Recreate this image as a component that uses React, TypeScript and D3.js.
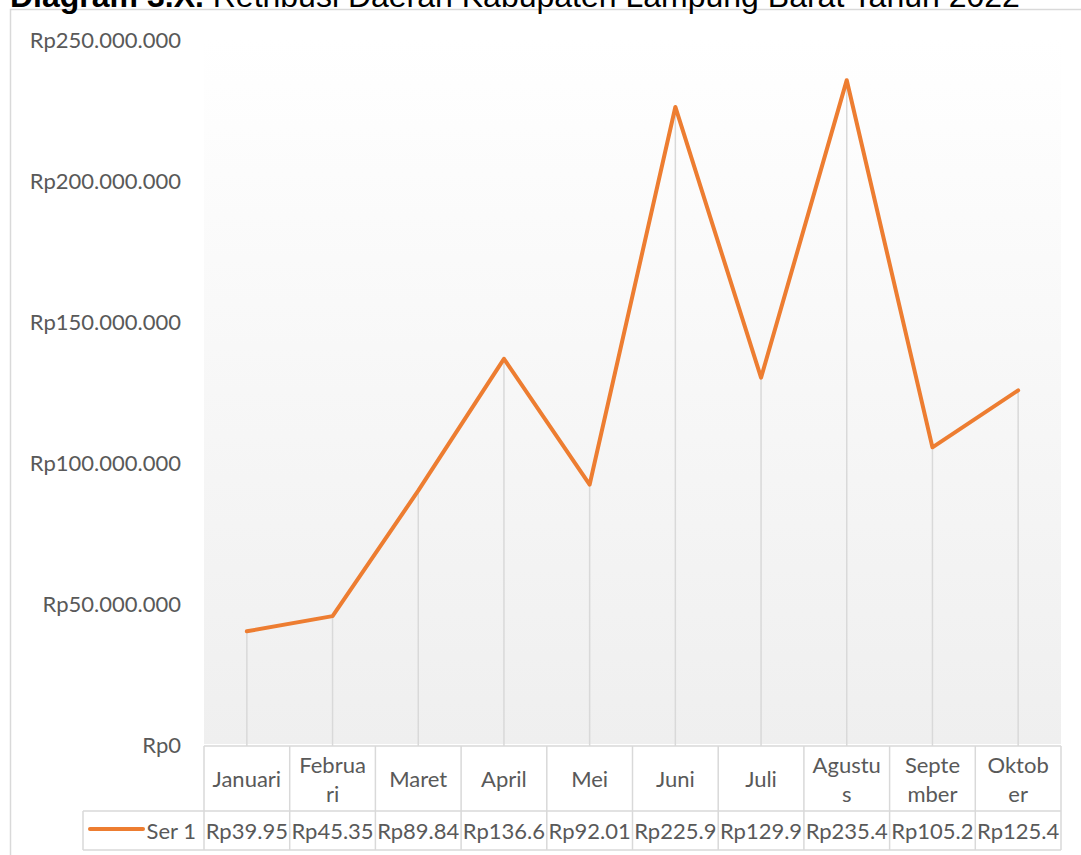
import React from "react";
import * as d3 from "d3";

const categories = ["Januari", "Februari", "Maret", "April", "Mei", "Juni", "Juli", "Agustus", "September", "Oktober"];
const values = [39.95e6, 45.35e6, 89.84e6, 136.6e6, 92.01e6, 225.9e6, 129.9e6, 235.4e6, 105.2e6, 125.4e6];
const tableLabels = ["Rp39.95", "Rp45.35", "Rp89.84", "Rp136.6", "Rp92.01", "Rp225.9", "Rp129.9", "Rp235.4", "Rp105.2", "Rp125.4"];
const yTicks = [0, 50e6, 100e6, 150e6, 200e6, 250e6];
const seriesName = "Ser 1";
const titleBold = "Diagram 3.X.";
const titleRest = " Retribusi Daerah Kabupaten Lampung Barat Tahun 2022";

const W = 1081;
const H = 855;
const FONT = "Lato, 'Open Sans', sans-serif";
const FS = 22;
const TXT = "#595959";
const GRID = "#d9d9d9";
const ORANGE = "#ED7D31";

const locale = d3.formatLocale({ decimal: ",", thousands: ".", grouping: [3], currency: ["Rp", ""] });
const fmt = locale.format("$,.0f");

function wrapText(text: string, maxW: number): string[] {
  const c = document.createElement("canvas").getContext("2d");
  if (!c) return [text];
  c.font = `${FS}px Lato`;
  const lines: string[] = [];
  let cur = "";
  for (const ch of text) {
    if (cur && c.measureText(cur + ch).width > maxW) {
      lines.push(cur);
      cur = ch;
    } else cur += ch;
  }
  if (cur) lines.push(cur);
  return lines;
}

export default function App() {
  const left = 204;
  const right = 1061;
  const x = d3.scaleBand<string>().domain(categories).range([left, right]).padding(0);
  const y = d3.scaleLinear().domain([0, 250e6]).range([744, 39]);
  const cx = (c: string) => (x(c) as number) + x.bandwidth() / 2;
  const line = d3
    .line<number>()
    .x((_, i) => cx(categories[i]))
    .y((d) => y(d));

  const tTop = 746;
  const tMid = 811;
  const tBot = 850;
  const legendLeft = 83;
  const edges = categories.map((c) => x(c) as number).concat([right]);

  return (
    <div style={{ position: "absolute", left: 0, top: 0 }}>
      <svg width={W} height={H} style={{ display: "block" }}>
        <defs>
          <linearGradient id="pg" x1="0" y1="0" x2="0" y2="1">
            <stop offset="0" stopColor="#ffffff" />
            <stop offset="1" stopColor="#efefef" />
          </linearGradient>
        </defs>
        <rect x={0} y={0} width={W} height={H} fill="#fff" />
        <rect x={10.5} y={9.5} width={1100} height={900} fill="#fff" stroke={GRID} strokeWidth={1.5} />
        <text x={10} y={7} fontFamily="'Liberation Sans', Arial, sans-serif" fontSize={32} fill="#000">
          <tspan fontWeight="bold">{titleBold}</tspan>
          <tspan>{titleRest}</tspan>
        </text>

        <rect x={left} y={y(250e6)} width={right - left} height={744 - y(250e6)} fill="url(#pg)" />

        {yTicks.map((t) => (
          <text key={t} x={181} y={y(t)} textAnchor="end" dominantBaseline="central" fontFamily={FONT} fontSize={FS} fill={TXT}>
            {fmt(t)}
          </text>
        ))}

        {categories.map((c, i) => (
          <line key={c} x1={cx(c)} x2={cx(c)} y1={y(values[i])} y2={tTop} stroke={GRID} strokeWidth={1.5} />
        ))}

        <path d={line(values) || ""} fill="none" stroke={ORANGE} strokeWidth={4} strokeLinejoin="round" strokeLinecap="round" />

        <g stroke={GRID} strokeWidth={1.5}>
          <line x1={left} x2={right} y1={tTop} y2={tTop} />
          <line x1={legendLeft} x2={right} y1={tMid} y2={tMid} />
          <line x1={legendLeft} x2={right} y1={tBot} y2={tBot} />
          <line x1={legendLeft} x2={legendLeft} y1={tMid} y2={tBot} />
          {edges.map((e, i) => (
            <line key={i} x1={e} x2={e} y1={tTop} y2={tBot} />
          ))}
        </g>

        {categories.map((c) => {
          const lines = wrapText(c, 70.5);
          const lh = 29;
          const mid = (tTop + tMid) / 2;
          return (
            <text key={c} textAnchor="middle" fontFamily={FONT} fontSize={FS} fill={TXT}>
              {lines.map((l, j) => (
                <tspan key={j} x={cx(c)} y={mid + (j - (lines.length - 1) / 2) * lh} dominantBaseline="central">
                  {l}
                </tspan>
              ))}
            </text>
          );
        })}

        {categories.map((c, i) => (
          <text key={c} x={cx(c)} y={(tMid + tBot) / 2} textAnchor="middle" dominantBaseline="central" fontFamily={FONT} fontSize={FS} fill={TXT}>
            {tableLabels[i]}
          </text>
        ))}

        <line x1={90} x2={143} y1={829} y2={829} stroke={ORANGE} strokeWidth={4} strokeLinecap="round" />
        <text x={196} y={(tMid + tBot) / 2} textAnchor="end" dominantBaseline="central" fontFamily={FONT} fontSize={FS} fill={TXT}>
          {seriesName}
        </text>
      </svg>
    </div>
  );
}
